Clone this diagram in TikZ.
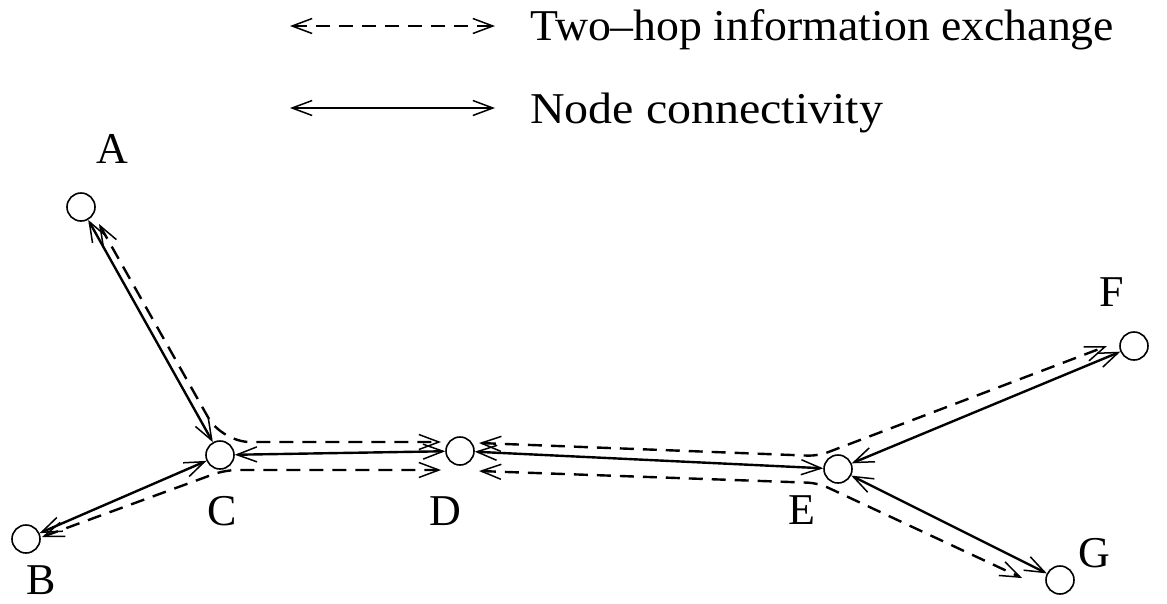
\documentclass[tikz,border=0pt]{standalone}
\usepackage{fontspec}
\setmainfont{Liberation Serif}
\usetikzlibrary{arrows.meta}
\begin{document}
\begin{tikzpicture}[x=1pt,y=-1pt,
  vertex/.style={circle,draw,line width=1.6pt,minimum size=28pt,inner sep=0pt},
  lbl/.style={inner sep=0pt,font=\fontsize{44}{44}\selectfont},
  conn/.style={line width=2.4pt,{Straight Barb[length=20pt,width=15pt,line width=1.5pt]}-{Straight Barb[length=20pt,width=15pt,line width=1.5pt]}},
  hop/.style={line width=2.4pt,dash pattern=on 14pt off 9pt,{Straight Barb[length=20pt,width=15pt,line width=1.5pt]}-{Straight Barb[length=20pt,width=15pt,line width=1.5pt]}}]
\useasboundingbox (0,0) rectangle (1167,603);
% legend
\coordinate (l1a) at (290,26);
\coordinate (l1b) at (495,26);
\coordinate (l2a) at (290,108);
\coordinate (l2b) at (495,108);
\draw[hop] (l1a) -- (l1b);
\draw[conn] (l2a) -- (l2b);
\node[lbl,anchor=base west] (t1) at (530,40) {\scalebox{1.04}[1]{Two–hop information exchange}};
\node[lbl,anchor=base west] (t2) at (530,123) {\scalebox{1.09}[1]{Node connectivity}};
% nodes
\node[vertex] (A) at (81,207) {};
\node[vertex] (B) at (26,539) {};
\node[vertex] (C) at (220,455) {};
\node[vertex] (D) at (460,451) {};
\node[vertex] (E) at (838,469) {};
\node[vertex] (F) at (1134,346) {};
\node[vertex] (G) at (1060,580) {};
% labels
\node[lbl] (lA) at (112,149) {A};
\node[lbl] (lB) at (41,580) {B};
\node[lbl] (lC) at (222,511) {C};
\node[lbl] (lD) at (445,511) {D};
\node[lbl] (lE) at (802,510) {E};
\node[lbl] (lF) at (1112,292) {F};
\node[lbl] (lG) at (1094,553) {G};
% connectivity
\draw[conn] (A) -- (C);
\draw[conn] (B) -- (C);
\draw[conn] (C) -- (D);
\draw[conn] (D) -- (E);
\draw[conn] (E) -- (F);
\draw[conn] (E) -- (G);
% two-hop
\coordinate (h1s) at (99,224);
\coordinate (h1c) at (222,442);
\coordinate (h1e) at (441,442);
\coordinate (h2s) at (42,537);
\coordinate (h2c) at (225,470);
\coordinate (h2e) at (441,470);
\coordinate (h3s) at (479,443);
\coordinate (h3c) at (818,456);
\coordinate (h3e) at (1107,346);
\coordinate (h4s) at (479,471);
\coordinate (h4c) at (818,483);
\coordinate (h4e) at (1022,578);
\draw[hop,rounded corners=28pt] (h1s) -- (h1c) -- (h1e);
\draw[hop,rounded corners=12pt] (h2s) -- (h2c) -- (h2e);
\draw[hop,rounded corners=10pt] (h3s) -- (h3c) -- (h3e);
\draw[hop,rounded corners=10pt] (h4s) -- (h4c) -- (h4e);
\end{tikzpicture}
\end{document}
